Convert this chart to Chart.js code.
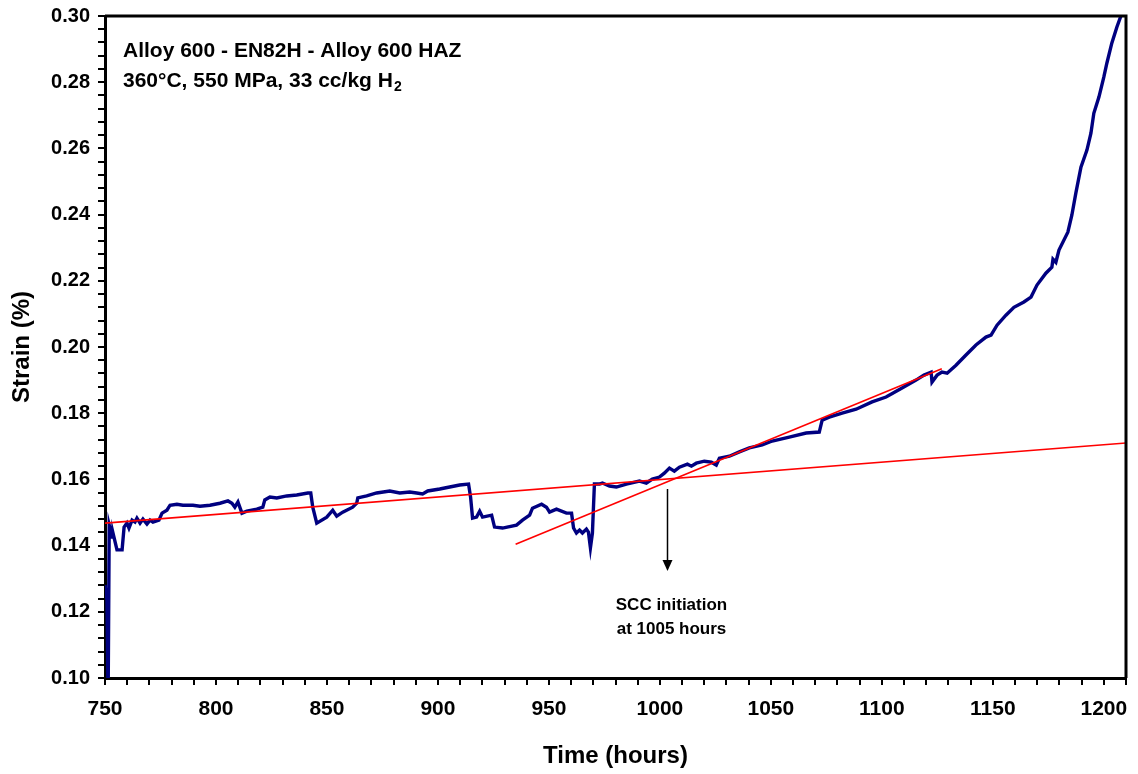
<!DOCTYPE html>
<html>
<head>
<meta charset="utf-8">
<title>Strain vs time</title>
<script src="https://cdn.jsdelivr.net/npm/chart.js@4.4.1/dist/chart.umd.min.js"></script>
<style>
  body { margin: 0; background: #fff; }
  #wrap { width: 1138px; height: 774px; position: relative; }
</style>
</head>
<body>
<div id="wrap"><canvas id="grafStrain"></canvas></div>
<script>
// datos de la prueba (horas, % deformacion)
var horas = [750.0, 750.9, 751.4, 751.8, 751.9, 753.2, 753.6, 755.4, 757.7, 758.6, 759.9, 760.8, 762.2, 763.5, 764.4, 765.8, 767.1, 768.9, 770.3, 771.6,
	774.3, 775.7, 777.9, 779.3, 782.4, 785.1, 789.6, 792.8, 797.3, 801.8, 805.4, 807.2, 808.5, 809.9, 811.7, 813.9, 818.4, 821.1, 822.0, 824.3,
	827.4, 831.9, 836.4, 841.4, 842.7, 843.6, 845.4, 849.9, 852.6, 854.4, 857.1, 861.6, 863.4, 863.9, 867.9, 872.4, 878.3, 882.8, 887.3, 890.4,
	893.1, 895.4, 900.8, 905.3, 909.8, 913.8, 914.7, 915.6, 917.4, 918.8, 920.1, 924.2, 925.5, 929.1, 935.4, 938.1, 941.3, 942.6, 946.7, 948.9,
	950.3, 953.4, 957.9, 960.2, 961.1, 962.4, 963.8, 965.1, 966.9, 967.8, 968.7, 969.6, 970.5, 972.8, 974.1, 977.3, 980.4, 984.9, 990.8, 993.9,
	996.6, 999.8, 1002.0, 1004.3, 1006.5, 1008.8, 1012.4, 1014.2, 1016.4, 1020.0, 1023.2, 1025.4, 1026.8, 1031.3, 1035.8, 1040.3, 1046.1, 1050.6, 1058.3, 1065.9,
	1071.8, 1073.1, 1076.3, 1082.1, 1088.4, 1095.6, 1101.9, 1109.1, 1115.4, 1119.0, 1122.2, 1122.6, 1124.9, 1127.1, 1129.4, 1133.4, 1137.9, 1142.4, 1146.9, 1149.2,
	1151.9, 1155.9, 1159.5, 1164.0, 1167.2, 1169.9, 1173.9, 1176.6, 1177.1, 1178.4, 1179.8, 1183.8, 1185.6, 1187.4, 1189.7, 1192.4, 1194.2, 1195.5, 1197.8, 1200.0,
	1201.4, 1203.6, 1205.9, 1207.7, 1208.6];
var strain = [0.1281, 0.1236, 0.0930, 0.0930, 0.1462, 0.1426, 0.1438, 0.1387, 0.1387, 0.1456, 0.1468, 0.1453, 0.1477, 0.1471, 0.1483, 0.1468, 0.1480, 0.1465, 0.1477, 0.1471,
	0.1477, 0.1498, 0.1507, 0.1522, 0.1525, 0.1522, 0.1522, 0.1519, 0.1522, 0.1528, 0.1535, 0.1528, 0.1516, 0.1532, 0.1498, 0.1504, 0.1510, 0.1516, 0.1538, 0.1547,
	0.1544, 0.1550, 0.1553, 0.1559, 0.1559, 0.1516, 0.1468, 0.1486, 0.1507, 0.1489, 0.1501, 0.1516, 0.1528, 0.1544, 0.1550, 0.1559, 0.1565, 0.1559, 0.1562, 0.1559,
	0.1556, 0.1565, 0.1571, 0.1577, 0.1583, 0.1586, 0.1547, 0.1483, 0.1486, 0.1504, 0.1486, 0.1492, 0.1456, 0.1453, 0.1462, 0.1477, 0.1492, 0.1513, 0.1525, 0.1516,
	0.1501, 0.1510, 0.1498, 0.1498, 0.1453, 0.1438, 0.1447, 0.1438, 0.1450, 0.1441, 0.1393, 0.1438, 0.1586, 0.1586, 0.1589, 0.1580, 0.1577, 0.1586, 0.1595, 0.1589,
	0.1601, 0.1607, 0.1619, 0.1634, 0.1625, 0.1637, 0.1646, 0.1640, 0.1649, 0.1655, 0.1652, 0.1643, 0.1664, 0.1670, 0.1683, 0.1695, 0.1704, 0.1716, 0.1728, 0.1740,
	0.1743, 0.1779, 0.1788, 0.1800, 0.1812, 0.1834, 0.1849, 0.1876, 0.1900, 0.1915, 0.1924, 0.1894, 0.1915, 0.1924, 0.1921, 0.1945, 0.1976, 0.2006, 0.2030, 0.2036,
	0.2066, 0.2096, 0.2120, 0.2136, 0.2151, 0.2187, 0.2223, 0.2241, 0.2265, 0.2256, 0.2293, 0.2347, 0.2398, 0.2465, 0.2543, 0.2595, 0.2646, 0.2706, 0.2755, 0.2815,
	0.2858, 0.2918, 0.2967, 0.3000, 0.3024];

// rectas de ajuste (antes y despues de la iniciacion)
var ajuste1Horas = [750, 1210];
var ajuste1Strain = [0.1468, 0.1710];
var ajuste2Horas = [935, 1127];
var ajuste2Strain = [0.1404, 0.1934];

// textos
var tituloLineas = ['Alloy 600 - EN82H - Alloy 600 HAZ', '360°C, 550 MPa, 33 cc/kg H'];
var tituloSub = '2';
var notaLineas = ['SCC initiation', 'at 1005 hours'];
var notaHoras = 1003;
var flechaDesde = 0.1571;
var flechaHasta = 0.1323;

var fuente = "'Liberation Sans', Arial, sans-serif";

function puntos(xs, ys) {
	var out = [];
	for (var i = 0; i < xs.length; i++) out.push({x: xs[i], y: ys[i]});
	return out;
}

// marco, titulo y flecha
var pluginTextos = {
	id: 'textos',
	afterDatasetsDraw: function(chart) {
		var ctx = chart.ctx;
		var ca = chart.chartArea;
		var sx = chart.scales.x, sy = chart.scales.y;
		ctx.save();
		// marco superior y derecho
		ctx.strokeStyle = '#000';
		ctx.lineWidth = 3;
		ctx.beginPath();
		ctx.moveTo(ca.left, ca.top);
		ctx.lineTo(ca.right, ca.top);
		ctx.lineTo(ca.right, ca.bottom);
		ctx.stroke();

		// titulo
		ctx.fillStyle = '#000';
		ctx.textAlign = 'left';
		ctx.textBaseline = 'alphabetic';
		ctx.font = 'bold 21px ' + fuente;
		ctx.fillText(tituloLineas[0], ca.left + 18, ca.top + 41);
		ctx.fillText(tituloLineas[1], ca.left + 18, ca.top + 71);
		var w = ctx.measureText(tituloLineas[1]).width;
		ctx.font = 'bold 14px ' + fuente;
		ctx.fillText(tituloSub, ca.left + 18 + w + 1, ca.top + 75);

		// flecha
		var fx = Math.round(sx.getPixelForValue(notaHoras)) + 0.5;
		var y1 = sy.getPixelForValue(flechaDesde);
		var y2 = sy.getPixelForValue(flechaHasta);
		ctx.lineWidth = 1.5;
		ctx.beginPath();
		ctx.moveTo(fx, y1);
		ctx.lineTo(fx, y2 - 9);
		ctx.stroke();
		ctx.beginPath();
		ctx.moveTo(fx - 5, y2 - 11);
		ctx.lineTo(fx + 5, y2 - 11);
		ctx.lineTo(fx, y2);
		ctx.closePath();
		ctx.fill();

		// nota
		ctx.font = 'bold 17px ' + fuente;
		ctx.textAlign = 'center';
		ctx.fillText(notaLineas[0], fx + 4, y2 + 39);
		ctx.fillText(notaLineas[1], fx + 4, y2 + 63);
		ctx.restore();
	}
};

var grafStrain = new Chart('grafStrain', {
	type: 'line',
	data: {
		datasets: [{
			data: puntos(ajuste1Horas, ajuste1Strain),
			borderColor: '#ff0000',
			borderWidth: 1.6,
			pointRadius: 0
		}, {
			data: puntos(ajuste2Horas, ajuste2Strain),
			borderColor: '#ff0000',
			borderWidth: 1.6,
			pointRadius: 0
		}, {
			data: puntos(horas, strain),
			borderColor: '#000080',
			borderWidth: 3.4,
			pointRadius: 0,
			tension: 0
		}]
	},
	options: {
		responsive: true,
		maintainAspectRatio: false,
		animation: false,
		events: [],
		layout: { padding: { top: 16, right: 10, left: 0, bottom: 0 } },
		plugins: { legend: { display: false }, tooltip: { enabled: false } },
		scales: {
			x: {
				type: 'linear',
				min: 750,
				max: 1210,
				afterFit: function(s) { s.height = 96; },
				border: { display: true, color: '#000', width: 3 },
				grid: { drawOnChartArea: false, drawTicks: true, tickLength: 7, color: '#000', lineWidth: 2 },
				ticks: {
					stepSize: 10,
					autoSkip: false,
					maxRotation: 0,
					padding: 12,
					color: '#000',
					font: { family: fuente, size: 21, weight: 'bold' },
					callback: function(v) { return (Math.round(v) % 50 === 0) ? String(Math.round(v)) : ''; }
				},
				title: {
					display: true,
					text: 'Time (hours)',
					color: '#000',
					font: { family: fuente, size: 24, weight: 'bold' },
					padding: { top: 0, bottom: 3 }
				}
			},
			y: {
				type: 'linear',
				min: 0.10,
				max: 0.30,
				// ancho fijo del eje y sin relleno extra arriba/abajo
				afterFit: function(s) { s.width = 105; s.paddingTop = 0; s.paddingBottom = 0; },
				border: { display: true, color: '#000', width: 3 },
				grid: { drawOnChartArea: false, drawTicks: true, tickLength: 7, color: '#000', lineWidth: 2 },
				ticks: {
					stepSize: 0.004,
					autoSkip: false,
					padding: 8,
					color: '#000',
					font: { family: fuente, size: 20, weight: 'bold' },
					callback: function(v) {
						var m = Math.round(v * 1000);
						return (m % 20 === 0) ? (m / 1000).toFixed(2) : '';
					}
				},
				title: {
					display: true,
					text: 'Strain (%)',
					color: '#000',
					font: { family: fuente, size: 24, weight: 'bold' },
					padding: { top: 8, bottom: 0 }
				}
			}
		}
	},
	plugins: [pluginTextos]
});
</script>
</body>
</html>
